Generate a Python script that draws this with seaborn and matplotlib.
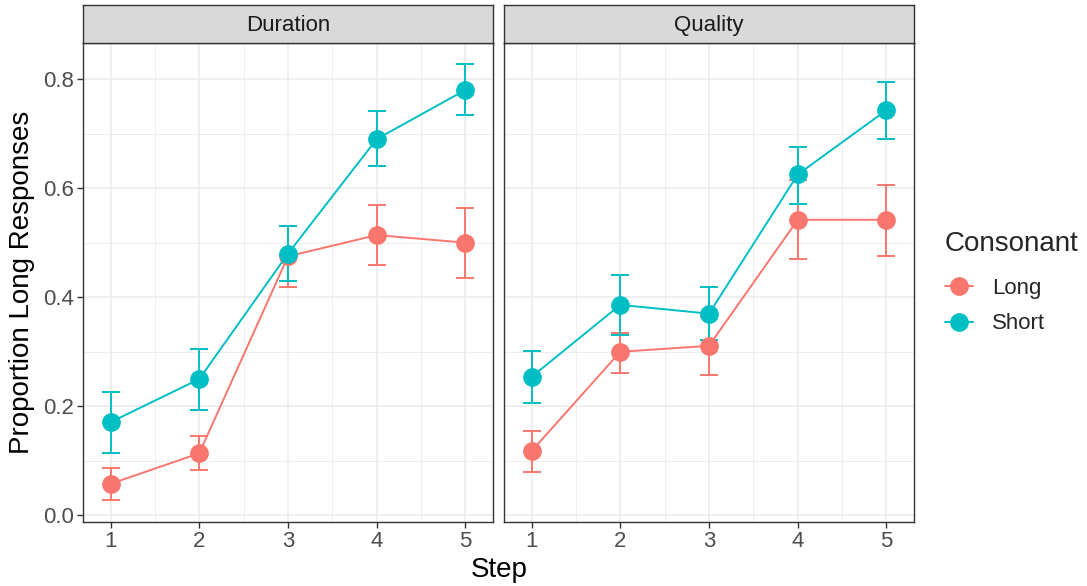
import numpy as np
import pandas as pd
import matplotlib
matplotlib.use("Agg")
import matplotlib.pyplot as plt
import seaborn as sns
from matplotlib.lines import Line2D
from matplotlib.ticker import MultipleLocator

steps = [1, 2, 3, 4, 5]
conditions = ["Duration", "Quality"]
consonants = ["Long", "Short"]

dur_long = [0.058, 0.114, 0.475, 0.514, 0.500]
dur_long_lo = [0.029, 0.083, 0.419, 0.459, 0.436]
dur_long_hi = [0.087, 0.146, 0.531, 0.570, 0.564]
dur_short = [0.171, 0.250, 0.480, 0.690, 0.780]
dur_short_lo = [0.115, 0.194, 0.430, 0.640, 0.734]
dur_short_hi = [0.227, 0.306, 0.531, 0.741, 0.827]

qual_long = [0.118, 0.300, 0.311, 0.542, 0.542]
qual_long_lo = [0.080, 0.262, 0.257, 0.470, 0.476]
qual_long_hi = [0.154, 0.335, 0.364, 0.615, 0.605]
qual_short = [0.254, 0.386, 0.370, 0.625, 0.743]
qual_short_lo = [0.206, 0.330, 0.321, 0.571, 0.690]
qual_short_hi = [0.301, 0.440, 0.419, 0.676, 0.795]

palette = {"Long": "#F8766D", "Short": "#00BFC4"}

rows = []
series = {
    ("Duration", "Long"): (dur_long, dur_long_lo, dur_long_hi),
    ("Duration", "Short"): (dur_short, dur_short_lo, dur_short_hi),
    ("Quality", "Long"): (qual_long, qual_long_lo, qual_long_hi),
    ("Quality", "Short"): (qual_short, qual_short_lo, qual_short_hi),
}
for (cond, cons), (m, lo, hi) in series.items():
    for s, v, l, h in zip(steps, m, lo, hi):
        rows.append(dict(Condition=cond, Consonant=cons, Step=s, Prop=v, lo=l, hi=h))
df = pd.DataFrame(rows)

sns.set_theme(style="white")
plt.rcParams["font.family"] = ["Liberation Sans", "DejaVu Sans"]

SMALL = 16
BIG = 20

fig = plt.figure(figsize=(10.87, 5.86), dpi=100)
W, H = 1087, 586
panel_x = [(83, 493), (504, 914)]
ptop, pbot = 43, 521.5
strip_top = 5

for (x0, x1), cond in zip(panel_x, conditions):
    ax = fig.add_axes([x0 / W, (H - pbot) / H, (x1 - x0) / W, (pbot - ptop) / H])
    sub = df[df.Condition == cond]
    ax.set_xlim(0.69, 5.31)
    ax.set_ylim(-0.011, 0.866)
    ax.xaxis.set_major_locator(MultipleLocator(1))
    ax.xaxis.set_minor_locator(MultipleLocator(0.5))
    ax.yaxis.set_major_locator(MultipleLocator(0.2))
    ax.yaxis.set_minor_locator(MultipleLocator(0.1))
    ax.grid(which="major", color="#EBEBEB", linewidth=1.1)
    ax.grid(which="minor", color="#EBEBEB", linewidth=0.6)
    ax.set_axisbelow(True)
    for cons in consonants:
        d = sub[sub.Consonant == cons]
        ax.errorbar(d.Step, d.Prop, yerr=[d.Prop - d.lo, d.hi - d.Prop], fmt="none",
                    ecolor=palette[cons], elinewidth=1.4, capsize=6.4, capthick=1.4, zorder=2)
    sns.lineplot(data=sub, x="Step", y="Prop", hue="Consonant", hue_order=consonants,
                 palette=palette, marker="o", markersize=13.5, markeredgewidth=0,
                 linewidth=1.4, errorbar=None, legend=False, ax=ax, zorder=3)
    for sp in ax.spines.values():
        sp.set_color("#333333")
        sp.set_linewidth(1.0)
    ax.tick_params(axis="both", which="major", length=4, width=1, color="#333333",
                   labelsize=SMALL, labelcolor="#4D4D4D", pad=2.5, bottom=True, left=True)
    ax.tick_params(which="minor", length=0)
    ax.set_xticks(steps)
    ax.set_xticklabels([str(s) for s in steps])
    ax.set_xlabel("")
    ax.set_ylabel("")
    if cond == "Duration":
        ax.set_yticks([0.0, 0.2, 0.4, 0.6, 0.8])
        ax.set_yticklabels(["0.0", "0.2", "0.4", "0.6", "0.8"])
    else:
        ax.tick_params(axis="y", left=False, labelleft=False)
    sax = fig.add_axes([x0 / W, (H - ptop) / H, (x1 - x0) / W, (ptop - strip_top) / H])
    sax.set_facecolor("#D9D9D9")
    sax.set_xticks([])
    sax.set_yticks([])
    for sp in sax.spines.values():
        sp.set_color("#333333")
        sp.set_linewidth(1.0)
    sax.text(0.5, 0.47, cond, ha="center", va="center", fontsize=SMALL, color="#1A1A1A",
             transform=sax.transAxes)

fig.text(499 / W, 1 - 570 / H, "Step", ha="center", va="center", fontsize=BIG, color="black")
fig.text(22 / W, 1 - 282 / H, "Proportion Long Responses", ha="center", va="center",
         rotation=90, fontsize=BIG, color="black")

handles = [Line2D([0], [0], color=palette[c], marker="o", markersize=13.5, linewidth=1.4,
                  markeredgewidth=0) for c in consonants]
leg = fig.legend(handles, consonants, title="Consonant", loc="upper left",
                 bbox_to_anchor=(945 / W, 1 - 231 / H), frameon=False, fontsize=SMALL,
                 title_fontsize=BIG, handlelength=1.25, labelspacing=0.65, handletextpad=0.85,
                 borderpad=0, borderaxespad=0, alignment="left")
leg._legend_box.sep = 15

fig.savefig("out.png", dpi=100)
